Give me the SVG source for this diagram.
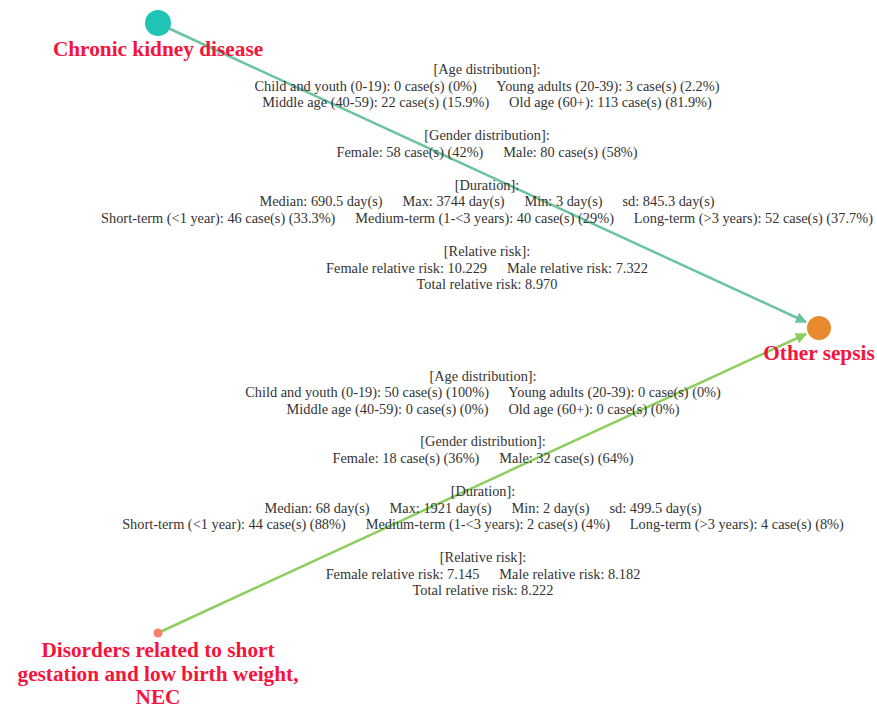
<svg xmlns="http://www.w3.org/2000/svg" width="877" height="708" viewBox="0 0 877 708">
<style>
.info{font-family:"Liberation Serif","Times New Roman",serif;font-size:14.35px;fill:#333;text-anchor:middle;white-space:pre}
.lbl{font-family:"Liberation Serif","Times New Roman",serif;font-size:21.3px;font-weight:bold;fill:#f5143c;text-anchor:middle}
.edge{fill:none;stroke-width:2.5}
</style>
<defs>
<marker id="arrT" viewBox="0 0 10 10" refX="9" refY="5" markerWidth="4.5" markerHeight="4.5" orient="auto" markerUnits="strokeWidth"><path d="M0,0 L10,5 L0,10 z" fill="#6cc3a0"/></marker>
<marker id="arrG" viewBox="0 0 10 10" refX="9" refY="5" markerWidth="4.5" markerHeight="4.5" orient="auto" markerUnits="strokeWidth"><path d="M0,0 L10,5 L0,10 z" fill="#8ccf5f"/></marker>
</defs>
<rect width="877" height="708" fill="#fff"/>
<g id="connectors">
<line class="edge" x1="168" y1="28" x2="806" y2="322" stroke="#6cc3a0" marker-end="url(#arrT)"/>
<line class="edge" x1="160" y1="632" x2="806" y2="334" stroke="#8ccf5f" marker-end="url(#arrG)"/>
</g>
<g id="info-top" xml:space="preserve">
<text class="info" x="487" y="74">[Age distribution]:</text>
<text class="info" x="487" y="91">Child and youth (0-19): 0 case(s) (0%)     <tspan dx="2">Young adults (20-39): 3 case(s) (2.2%)</tspan></text>
<text class="info" x="487" y="107">Middle age (40-59): 22 case(s) (15.9%)     <tspan dx="2">Old age (60+): 113 case(s) (81.9%)</tspan></text>
<text class="info" x="487" y="140">[Gender distribution]:</text>
<text class="info" x="487" y="157">Female: 58 case(s) (42%)     <tspan dx="2">Male: 80 case(s) (58%)</tspan></text>
<text class="info" x="487" y="190">[Duration]:</text>
<text class="info" x="487" y="206">Median: 690.5 day(s)     <tspan dx="2">Max: 3744 day(s)     </tspan><tspan dx="2">Min: 3 day(s)     </tspan><tspan dx="2">sd: 845.3 day(s)</tspan></text>
<text class="info" x="487" y="223">Short-term (&lt;1 year): 46 case(s) (33.3%)     <tspan dx="2">Medium-term (1-&lt;3 years): 40 case(s) (29%)     </tspan><tspan dx="2">Long-term (&gt;3 years): 52 case(s) (37.7%)</tspan></text>
<text class="info" x="487" y="256">[Relative risk]:</text>
<text class="info" x="487" y="273">Female relative risk: 10.229     <tspan dx="2">Male relative risk: 7.322</tspan></text>
<text class="info" x="487" y="289">Total relative risk: 8.970</text>
</g>
<g id="info-bottom" xml:space="preserve">
<text class="info" x="483" y="381">[Age distribution]:</text>
<text class="info" x="483" y="397">Child and youth (0-19): 50 case(s) (100%)     <tspan dx="2">Young adults (20-39): 0 case(s) (0%)</tspan></text>
<text class="info" x="483" y="414">Middle age (40-59): 0 case(s) (0%)     <tspan dx="2">Old age (60+): 0 case(s) (0%)</tspan></text>
<text class="info" x="483" y="446">[Gender distribution]:</text>
<text class="info" x="483" y="463">Female: 18 case(s) (36%)     <tspan dx="2">Male: 32 case(s) (64%)</tspan></text>
<text class="info" x="483" y="496">[Duration]:</text>
<text class="info" x="483" y="513">Median: 68 day(s)     <tspan dx="2">Max: 1921 day(s)     </tspan><tspan dx="2">Min: 2 day(s)     </tspan><tspan dx="2">sd: 499.5 day(s)</tspan></text>
<text class="info" x="483" y="529">Short-term (&lt;1 year): 44 case(s) (88%)     <tspan dx="2">Medium-term (1-&lt;3 years): 2 case(s) (4%)     </tspan><tspan dx="2">Long-term (&gt;3 years): 4 case(s) (8%)</tspan></text>
<text class="info" x="483" y="562">[Relative risk]:</text>
<text class="info" x="483" y="579">Female relative risk: 7.145     <tspan dx="2">Male relative risk: 8.182</tspan></text>
<text class="info" x="483" y="595">Total relative risk: 8.222</text>
</g>
<g id="node-ckd">
<circle cx="158" cy="23" r="13" fill="#1fc4b4"/>
<text class="lbl" x="158" y="56">Chronic kidney disease</text>
</g>
<g id="node-sepsis">
<circle cx="819" cy="328" r="12" fill="#ea8a30"/>
<text class="lbl" x="819" y="360">Other sepsis</text>
</g>
<g id="node-disorders">
<circle cx="158" cy="633" r="4.5" fill="#f58070"/>
<text class="lbl" x="158" y="657">Disorders related to short</text>
<text class="lbl" x="158" y="681">gestation and low birth weight,</text>
<text class="lbl" x="158" y="704">NEC</text>
</g>
</svg>
